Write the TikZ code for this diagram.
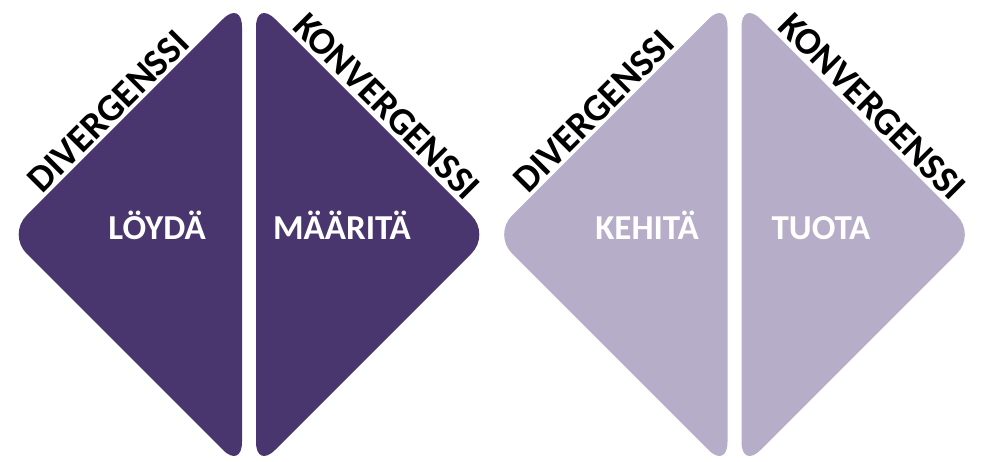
\documentclass[tikz,border=0pt]{standalone}
\usepackage{fontspec}
\setmainfont{Carlito}
\usepackage{tikz}
\definecolor{darkviolet}{RGB}{73,54,110}
\definecolor{paleviolet}{RGB}{182,174,200}
\tikzstyle{phase}=[text=white,anchor=base,inner sep=0pt,
                   font=\bfseries\fontsize{35}{42}\selectfont]
\tikzstyle{mode}=[text=black,anchor=base,inner sep=0pt,
                  font=\bfseries\fontsize{38}{45}\selectfont]

\begin{document}
\begin{tikzpicture}[x=1pt,y=1pt]
    \newcommand{\gp}{7}
    \newcommand{\hd}{234.5}
    \newcommand{\cy}{226.5}
    \newcommand{\halfleft}[2]{\fill[#2,rounded corners=27pt]
      (#1-\gp,\cy+\hd) -- (#1-\gp-\hd,\cy) -- (#1-\gp,\cy-\hd) -- cycle;}
    \newcommand{\halfright}[2]{\fill[#2,rounded corners=27pt]
      (#1+\gp,\cy+\hd) -- (#1+\gp+\hd,\cy) -- (#1+\gp,\cy-\hd) -- cycle;}
    \useasboundingbox (0,0) rectangle (986,461);
    \halfleft{249}{darkviolet}
    \halfright{249}{darkviolet}
    \halfleft{734.5}{paleviolet}
    \halfright{734.5}{paleviolet}
    \node (loyda)   at (157,221)   [phase]{LÖYDÄ};
    \node (maarita) at (342,221)   [phase]{MÄÄRITÄ};
    \node (kehita)  at (647,221)   [phase]{KEHITÄ};
    \node (tuota)   at (821,221)   [phase]{TUOTA};
    \node (div1) at (117,341)   [mode,rotate=45]{DIVERGENSSI};
    \node (kon1) at (378,346)   [mode,rotate=-45]{KONVERGENSSI};
    \node (div2) at (602.5,341) [mode,rotate=45]{DIVERGENSSI};
    \node (kon2) at (863.5,346) [mode,rotate=-45]{KONVERGENSSI};
  \end{tikzpicture}
\end{document}
